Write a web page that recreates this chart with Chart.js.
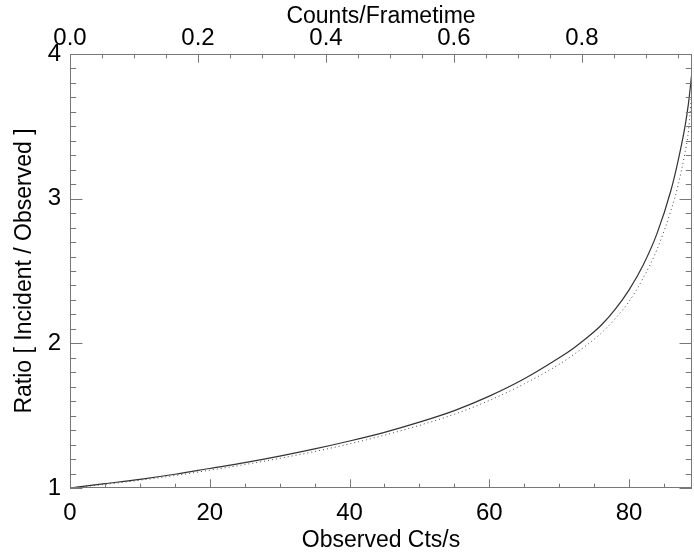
<!DOCTYPE html>
<html>
<head>
<meta charset="utf-8">
<script src="https://cdn.jsdelivr.net/npm/chart.js@4"></script>
<style>
  html, body { margin: 0; padding: 0; background: #fff; }
  #wrap { width: 694px; height: 554px; }
</style>
</head>
<body>
<div id="wrap"><canvas id="chart" width="694" height="554"></canvas></div>
<script>
// Observed count rate (cts/s) along the curves
const obsRate = [0, 5, 10, 15, 20, 25, 30, 35, 40, 45, 50, 55, 60, 65, 70, 72, 74, 76, 78, 80, 82, 84, 86, 87, 88, 88.5, 89];
// Ratio incident / observed, solid curve
const ratioSolid = [1.00, 1.03, 1.06, 1.095, 1.135, 1.175, 1.22, 1.27, 1.325, 1.385, 1.455, 1.535, 1.635, 1.755, 1.90, 1.965, 2.04, 2.125, 2.235, 2.37, 2.54, 2.76, 3.06, 3.26, 3.50, 3.66, 3.88];
// Ratio incident / observed, dotted curve
const ratioDotted = [1.00, 1.025, 1.054, 1.086, 1.123, 1.162, 1.205, 1.252, 1.305, 1.365, 1.433, 1.51, 1.605, 1.72, 1.855, 1.92, 1.99, 2.07, 2.17, 2.29, 2.45, 2.65, 2.92, 3.09, 3.32, 3.47, 3.76];

// axis ranges and tick labels
const xRange = [0, 89];
const topRange = [0, 0.972];
const yRange = [1, 4];
const xTickValues = [0, 20, 40, 60, 80];
const topTickValues = [0, 0.2, 0.4, 0.6, 0.8];
const yTickValues = [1, 2, 3, 4];

const FONT = "'Liberation Sans', Arial, Helvetica, sans-serif";

const toPoints = (xs, ys) => xs.map((x, i) => ({ x: x, y: ys[i] }));
const setTicks = vals => scale => { scale.ticks = vals.map(v => ({ value: v })); };

// IDL style frame with inward ticks on all four sides
const frameTicks = {
  id: 'frameTicks',
  afterDatasetsDraw(chart) {
    const { ctx, chartArea: a, scales } = chart;
    const xLen = 0.02 * (a.bottom - a.top);
    const yLen = 0.02 * (a.right - a.left);
    ctx.save();
    ctx.strokeStyle = '#777';
    ctx.lineWidth = 1;
    ctx.strokeRect(a.left + 0.5, a.top + 0.5, a.right - a.left - 1, a.bottom - a.top - 1);
    ctx.beginPath();
    const hTicks = (scale, step, major, y, dir) => {
      for (let v = scale.min; v <= scale.max + 1e-9; v += step) {
        const isMajor = Math.abs(v / major - Math.round(v / major)) < 1e-6;
        const px = Math.round(scale.getPixelForValue(v)) + 0.5;
        const len = isMajor ? xLen : xLen / 2;
        ctx.moveTo(px, y);
        ctx.lineTo(px, y + dir * len);
      }
    };
    const vTicks = (scale, step, major) => {
      for (let v = scale.min; v <= scale.max + 1e-9; v += step) {
        const isMajor = Math.abs(v / major - Math.round(v / major)) < 1e-6;
        const py = Math.round(scale.getPixelForValue(v)) + 0.5;
        const len = isMajor ? yLen : yLen / 2;
        ctx.moveTo(a.left, py);
        ctx.lineTo(a.left + len, py);
        ctx.moveTo(a.right, py);
        ctx.lineTo(a.right - len, py);
      }
    };
    hTicks(scales.x, 5, 20, a.bottom, -1);
    hTicks(scales.x2, 0.05, 0.2, a.top, 1);
    vTicks(scales.y, 0.1, 1);
    ctx.stroke();
    ctx.restore();
  }
};

new Chart(document.getElementById('chart'), {
  type: 'line',
  data: {
    datasets: [
      {
        label: 'solid',
        data: toPoints(obsRate, ratioSolid),
        borderColor: '#333',
        borderWidth: 1.2,
        pointRadius: 0,
        cubicInterpolationMode: 'monotone',
        xAxisID: 'x',
        yAxisID: 'y'
      },
      {
        label: 'dotted',
        data: toPoints(obsRate, ratioDotted),
        borderColor: '#444',
        borderWidth: 1,
        borderDash: [1, 3],
        pointRadius: 0,
        cubicInterpolationMode: 'monotone',
        xAxisID: 'x',
        yAxisID: 'y'
      }
    ]
  },
  options: {
    responsive: false,
    animation: false,
    layout: { padding: { left: 0, right: 2, top: 0, bottom: 0 } },
    plugins: { legend: { display: false }, tooltip: { enabled: false } },
    scales: {
      x: {
        type: 'linear',
        position: 'bottom',
        min: xRange[0],
        max: xRange[1],
        afterBuildTicks: setTicks(xTickValues),
        afterFit: s => { s.height = 66; },
        grid: { display: false, drawTicks: false },
        border: { display: false },
        ticks: { autoSkip: false, maxRotation: 0, padding: 11, color: '#000', font: { family: FONT, size: 24 } },
        title: { display: true, text: 'Observed Cts/s', color: '#000', padding: { top: 0, bottom: 0 }, font: { family: FONT, size: 23 } }
      },
      x2: {
        type: 'linear',
        position: 'top',
        min: topRange[0],
        max: topRange[1],
        afterBuildTicks: setTicks(topTickValues),
        afterFit: s => { s.height = 54; },
        grid: { display: false, drawTicks: false },
        border: { display: false },
        ticks: { autoSkip: false, maxRotation: 0, padding: 1, color: '#000', font: { family: FONT, size: 24 },
                 callback: v => v.toFixed(1) },
        title: { display: true, text: 'Counts/Frametime', color: '#000', padding: { top: 3, bottom: 0 }, font: { family: FONT, size: 23 } }
      },
      y: {
        type: 'linear',
        position: 'left',
        min: yRange[0],
        max: yRange[1],
        afterBuildTicks: setTicks(yTickValues),
        afterFit: s => { s.width = 70; },
        grid: { display: false, drawTicks: false },
        border: { display: false },
        ticks: { autoSkip: false, padding: 9, color: '#000', font: { family: FONT, size: 24 } },
        title: { display: true, text: 'Ratio [ Incident / Observed ]', color: '#000', padding: { top: 11, bottom: 0 }, font: { family: FONT, size: 23 } }
      }
    }
  },
  plugins: [frameTicks]
});
</script>
</body>
</html>
